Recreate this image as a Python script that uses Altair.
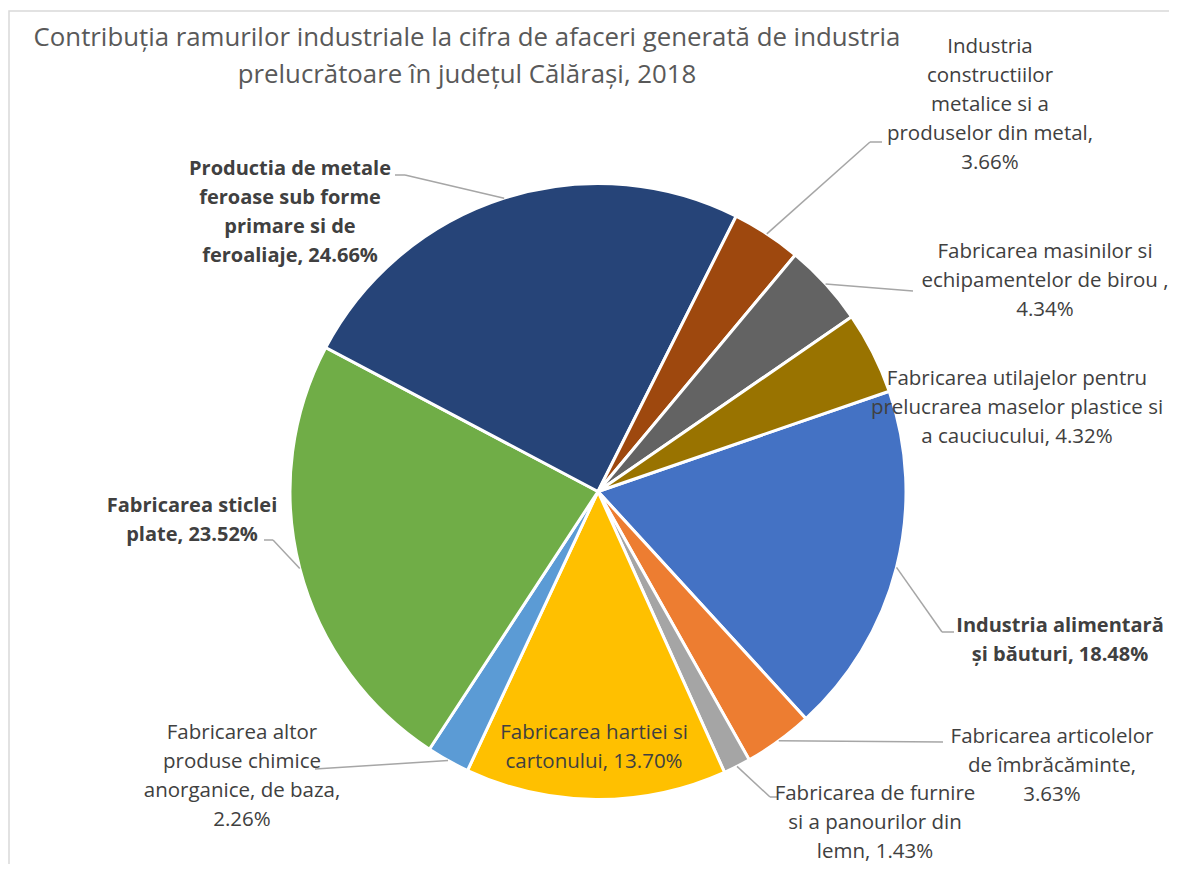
import math
import altair as alt
import pandas as pd

# ---------------- data ----------------
categories = [
    "Industria alimentară și băuturi",
    "Fabricarea articolelor de îmbrăcăminte",
    "Fabricarea de furnire si a panourilor din lemn",
    "Fabricarea hartiei si cartonului",
    "Fabricarea altor produse chimice anorganice, de baza",
    "Fabricarea sticlei plate",
    "Productia de metale feroase sub forme primare si de feroaliaje",
    "Industria constructiilor metalice si a produselor din metal",
    "Fabricarea masinilor si echipamentelor de birou ",
    "Fabricarea utilajelor pentru prelucrarea maselor plastice si a cauciucului",
]
values = [18.48, 3.63, 1.43, 13.70, 2.26, 23.52, 24.66, 3.66, 4.34, 4.32]

# label text as wrapped in the reference ({p} = percentage)
label_templates = [
    "Industria alimentară\nși băuturi, {p}",
    "Fabricarea articolelor\nde îmbrăcăminte,\n{p}",
    "Fabricarea de furnire\nsi a panourilor din\nlemn, {p}",
    "Fabricarea hartiei si\ncartonului, {p}",
    "Fabricarea altor\nproduse chimice\nanorganice, de baza,\n{p}",
    "Fabricarea sticlei\nplate, {p}",
    "Productia de metale\nferoase sub forme\nprimare si de\nferoaliaje, {p}",
    "Industria\nconstructiilor\nmetalice si a\nproduselor din metal,\n{p}",
    "Fabricarea masinilor si\nechipamentelor de birou ,\n{p}",
    "Fabricarea utilajelor pentru\nprelucrarea maselor plastice si\na cauciucului, {p}",
]
bold_labels = [True, False, False, False, False, True, True, False, False, False]

title_lines = [
    "Contribuția ramurilor industriale la cifra de afaceri generată de industria",
    "prelucrătoare în județul Călărași, 2018",
]

# ---------------- style / layout ----------------
colors = ["#4472C4", "#ED7D31", "#A5A5A5", "#FFC000", "#5B9BD5",
          "#70AD47", "#264478", "#9E480E", "#636363", "#997300"]
FONT = "Open Sans"
M = 8                      # page margin
W, H = 1161, 856
CX, CY, R = 598 - M, 491.5 - M, 308
START = math.radians(71)   # angle of first slice
LABEL_SIZE = 20.5
BOLD_SIZE = 20
LINE_H = 29

# label anchors (centre x, first baseline y) in page pixels
label_anchor = [(1060, 632), (1052, 743), (875, 800), (594, 739), (242, 739),
                (192, 512), (290, 175), (990, 53), (1045, 258), (1017, 385)]
# leader line bends (page pixels), starting from slice edge
leader_bends = [[(942, 632), (954, 632)], [(943, 742)], [(770, 797), (778, 797)], None,
                [(315, 769)], [(273, 540), (264, 540)], [(405, 175), (395, 175)],
                [(870, 142), (882, 142)], [(913, 291)], None]

# ---------------- derived tables ----------------
total = sum(values)
pie_df = pd.DataFrame({"cat": categories, "value": values, "idx": range(len(values))})

rows = []
segs = []
cum = 0.0
for i, (v, tpl) in enumerate(zip(values, label_templates)):
    mid = START + 2 * math.pi * (cum + v / 2) / total
    cum += v
    ex, ey = CX + R * math.sin(mid), CY - R * math.cos(mid)
    lx, ly = label_anchor[i]
    rows.append({"label": tpl.format(p=f"{v:.2f}%"), "lx": lx - M, "ly": ly - M,
                 "bold": bold_labels[i]})
    if leader_bends[i]:
        pts = [(ex, ey)] + [(px - M, py - M) for px, py in leader_bends[i]]
        for (x1, y1), (x2, y2) in zip(pts[:-1], pts[1:]):
            segs.append({"x": x1, "y": y1, "x2": x2, "y2": y2})
lab_df = pd.DataFrame(rows)
seg_df = pd.DataFrame(segs)
title_df = pd.DataFrame({"t": ["\n".join(title_lines)], "x": [467 - M], "y": [46 - M]})

# ---------------- chart ----------------
border = alt.Chart(pd.DataFrame({"a": [0]})).mark_rect(
    fill=None, stroke="#D9D9D9", strokeWidth=1.5
).encode(x=alt.value(1), x2=alt.value(1500), y=alt.value(3), y2=alt.value(1500))

pie = alt.Chart(pie_df).mark_arc(radius=R, stroke="white", strokeWidth=3).encode(
    theta=alt.Theta("value:Q", stack=True,
                    scale=alt.Scale(range=[START, START + 2 * math.pi])),
    color=alt.Color("cat:N", scale=alt.Scale(domain=categories, range=colors), legend=None),
    order=alt.Order("idx:Q"),
    x=alt.value(CX), y=alt.value(CY),
)

leaders = alt.Chart(seg_df).mark_rule(color="#A6A6A6", strokeWidth=1.5).encode(
    x=alt.X("x:Q", scale=None, axis=None), y=alt.Y("y:Q", scale=None, axis=None),
    x2="x2:Q", y2="y2:Q",
)

def labels(bold):
    return alt.Chart(lab_df).transform_filter(
        alt.datum.bold == bold
    ).mark_text(
        font=FONT, fontSize=BOLD_SIZE if bold else LABEL_SIZE, lineHeight=LINE_H,
        lineBreak="\n", align="center", baseline="alphabetic", color="#404040",
        fontWeight="bold" if bold else "normal",
    ).encode(
        x=alt.X("lx:Q", scale=None, axis=None), y=alt.Y("ly:Q", scale=None, axis=None),
        text="label:N",
    )

title = alt.Chart(title_df).mark_text(
    font=FONT, fontSize=25.8, lineHeight=37, lineBreak="\n", align="center",
    baseline="alphabetic", color="#595959",
).encode(x=alt.X("x:Q", scale=None, axis=None), y=alt.Y("y:Q", scale=None, axis=None),
         text="t:N")

chart = alt.layer(border, pie, leaders, labels(False), labels(True), title).properties(
    width=W, height=H, autosize=alt.AutoSizeParams(type="none"), padding=0,
    background="white",
).configure_view(stroke=None)

chart.save("out.html", embed_options={"renderer": "svg", "actions": False})
